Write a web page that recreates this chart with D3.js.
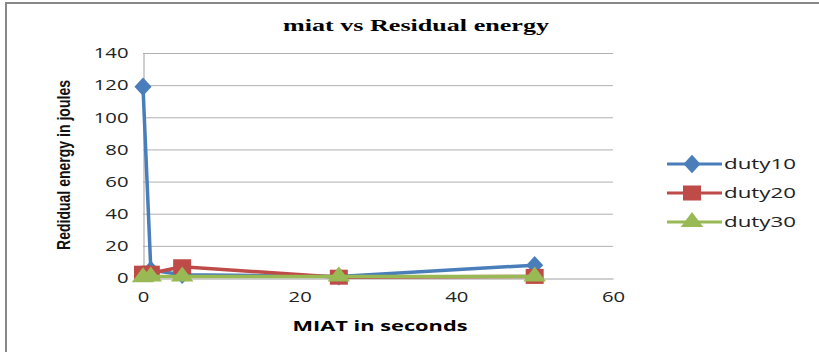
<!DOCTYPE html>
<html><head><meta charset="utf-8">
<script src="https://cdn.jsdelivr.net/npm/d3@7"></script>
<style>body{margin:0;background:#fff}svg{display:block}</style>
</head><body><svg id="c" width="819" height="352"></svg>
<script>
const xs = [0, 1, 5, 25, 50];
const duty10 = [119, 5, 2, 1, 8];
const duty20 = [3, 3, 7, 0.5, 1];
const duty30 = [0.5, 1, 1, 1, 1];
const seriesNames = ["duty10", "duty20", "duty30"];
const colors = ["#4a7ebb", "#be4b48", "#98b954"];
const xTicks = [0, 20, 40, 60];
const yTicks = [0, 20, 40, 60, 80, 100, 120, 140];

const svg = d3.select("#c");
const x = d3.scaleLinear().domain([0, 60]).range([143, 613]);
const y = d3.scaleLinear().domain([0, 140]).range([278, 53]);

function stretch(sel, f) {
  sel.each(function(){
    const w = this.getComputedTextLength();
    d3.select(this).attr("textLength", w*f).attr("lengthAdjust","spacingAndGlyphs");
  });
}

// frame
svg.append("line").attr("x1",6).attr("x2",819).attr("y1",3).attr("y2",3).attr("stroke","#888").attr("stroke-width",2);
svg.append("line").attr("x1",6).attr("x2",6).attr("y1",2).attr("y2",352).attr("stroke","#888").attr("stroke-width",2);

// title
svg.append("text").attr("x",416).attr("y",31).attr("text-anchor","middle")
  .style("font-family","Liberation Serif").style("font-weight","bold").style("font-size","17px")
  .attr("textLength",266).attr("lengthAdjust","spacingAndGlyphs")
  .text("miat vs Residual energy");

// grid
svg.append("g").selectAll("line").data(yTicks.slice(1)).join("line")
  .attr("x1",x(0)).attr("x2",x(60)).attr("y1",d=>y(d)+0.5).attr("y2",d=>y(d)+0.5)
  .attr("stroke","#b0b0b0").attr("stroke-width",1);

// axes
const ya = svg.append("g").attr("transform",`translate(${x(0)+0.5},0)`)
  .call(d3.axisLeft(y).tickValues(yTicks).tickSize(0).tickPadding(15));
const xa = svg.append("g").attr("transform",`translate(0,${y(0)+0.5})`)
  .call(d3.axisBottom(x).tickValues(xTicks).tickSize(0).tickPadding(13));
[ya, xa].forEach(a => {
  a.select(".domain").attr("stroke","#a0a0a0");
  a.selectAll("text").style("font-family","Open Sans").style("font-size","15px").attr("fill","#222");
  stretch(a.selectAll("text"), 1.35);
});

// axis titles
svg.append("text").attr("x",380).attr("y",331).attr("text-anchor","middle")
  .style("font-family","Open Sans").style("font-weight","bold").style("font-size","15px")
  .attr("textLength",175).attr("lengthAdjust","spacingAndGlyphs")
  .text("MIAT in seconds");
svg.append("text").attr("transform","translate(70,165) rotate(-90)").attr("text-anchor","middle")
  .style("font-family","Liberation Sans Narrow, Liberation Sans").style("font-size","18px")
  .style("font-weight","bold").attr("fill","#111")
  .attr("textLength",170).attr("lengthAdjust","spacingAndGlyphs")
  .text("Redidual energy in joules");

const data = [duty10, duty20, duty30];
const line = d3.line().x((d,i)=>x(xs[i])).y(d=>y(d));

function marker(g, k, cx, cy) {
  if (k === 0) {
    g.append("path").attr("d", d3.symbol(d3.symbolDiamond, 120)()).attr("transform",`translate(${cx},${cy}) scale(1.45,0.9)`).attr("fill",colors[0]);
  } else if (k === 1) {
    g.append("rect").attr("x",cx-9).attr("y",cy-7.5).attr("width",18).attr("height",15).attr("fill",colors[1]);
  } else {
    g.append("path").attr("d", d3.symbol(d3.symbolTriangle, 130)()).attr("transform",`translate(${cx},${cy}) scale(1.3,1)`).attr("fill",colors[2]);
  }
}

data.forEach((vals,k) => {
  const g = svg.append("g");
  g.append("path").datum(vals).attr("d",line).attr("fill","none").attr("stroke",colors[k]).attr("stroke-width",3.5).attr("stroke-linejoin","round");
  vals.forEach((v,i)=>marker(g,k,x(xs[i]),y(v)));
});

// legend
const legY = [164, 193, 222];
seriesNames.forEach((n,k)=>{
  const g = svg.append("g");
  g.append("line").attr("x1",667).attr("x2",722).attr("y1",legY[k]).attr("y2",legY[k]).attr("stroke",colors[k]).attr("stroke-width",3);
  marker(g,k,692,legY[k]);
  const t = g.append("text").attr("x",724).attr("y",legY[k]+5).style("font-family","Open Sans").style("font-size","15px").attr("fill","#222").text(n);
  t.attr("textLength",72).attr("lengthAdjust","spacingAndGlyphs");
});
</script></body></html>
